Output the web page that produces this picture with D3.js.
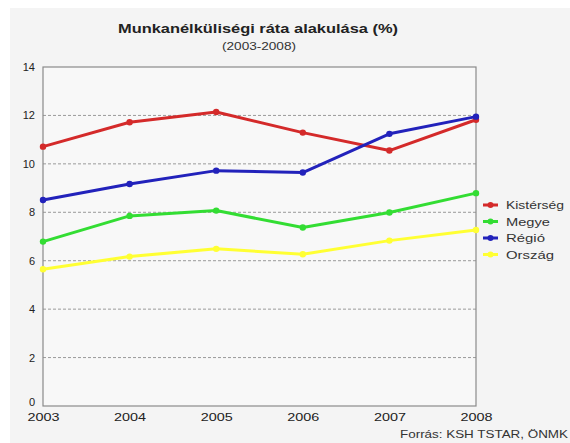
<!DOCTYPE html>
<html><head><meta charset="utf-8">
<script src="https://cdn.jsdelivr.net/npm/d3@7"></script>
<style>
html,body{margin:0;padding:0;background:#fff;}
svg{display:block;font-family:"Liberation Sans",Arial,sans-serif;}
</style></head>
<body>
<svg id="c" width="570" height="443"></svg>
<script>
const years = [2003, 2004, 2005, 2006, 2007, 2008];
const kisterseg = [10.71, 11.72, 12.14, 11.29, 10.55, 11.82];
const megye = [6.79, 7.85, 8.07, 7.37, 7.99, 8.79];
const regio = [8.51, 9.17, 9.72, 9.64, 11.24, 11.95];
const orszag = [5.65, 6.17, 6.49, 6.27, 6.83, 7.27];
const seriesNames = ["Kistérség", "Megye", "Régió", "Ország"];
const seriesColors = ["#d42a2a", "#33dd33", "#2222bb", "#ffff33"];
const yTicks = [0, 2, 4, 6, 8, 10, 12, 14];
const titleText = "Munkanélküliségi ráta alakulása (%)";
const subtitleText = "(2003-2008)";
const sourceText = "Forrás: KSH TSTAR, ÖNMK";

const seriesData = [kisterseg, megye, regio, orszag];

const svg = d3.select("#c");
const L = 43, R = 476, T = 67, B = 406;

svg.append("rect").attr("x", 10).attr("y", 8).attr("width", 560).attr("height", 435).attr("fill", "#f4f4f4");
svg.append("rect").attr("x", L).attr("y", T).attr("width", R - L).attr("height", B - T).attr("fill", "#f8f8f8");

const x = d3.scaleLinear().domain([2003, 2008]).range([L, R]);
const y = d3.scaleLinear().domain([0, 14]).range([B, T]);

// gridlines
svg.append("g").selectAll("line").data(yTicks.filter(t => t > 0 && t < 14)).join("line")
  .attr("x1", L).attr("x2", R).attr("y1", d => y(d)).attr("y2", d => y(d))
  .attr("stroke", "#9a9a9a").attr("stroke-width", 1).attr("stroke-dasharray", "3,2");

// border
svg.append("rect").attr("x", L).attr("y", T).attr("width", R - L).attr("height", B - T)
  .attr("fill", "none").attr("stroke", "#8a8a8a").attr("stroke-width", 1.2);

// y axis labels
const yAxis = svg.append("g").attr("transform", `translate(${L - 6},0)`)
  .call(d3.axisLeft(y).tickValues(yTicks).tickSize(0).tickPadding(2).tickFormat(d3.format("d")));
yAxis.select(".domain").remove();
yAxis.selectAll("text").attr("font-size", 11).attr("fill", "#222");
yAxis.selectAll(".tick").filter(d => d === 0).select("text").attr("dy", "-0.05em");

// x axis labels
const xAxis = svg.append("g").attr("transform", `translate(0,${B + 3})`)
  .call(d3.axisBottom(x).tickValues(years).tickSize(0).tickPadding(4).tickFormat(d3.format("d")));
xAxis.select(".domain").remove();
xAxis.selectAll("text").attr("font-size", 11).attr("fill", "#222")
  .attr("textLength", 32).attr("lengthAdjust", "spacingAndGlyphs");

// lines
const line = d3.line().x((d, i) => x(years[i])).y(d => y(d));
const order = [3, 1, 0, 2];
order.forEach(si => {
  const g = svg.append("g");
  g.append("path").datum(seriesData[si]).attr("d", line).attr("fill", "none")
    .attr("stroke", seriesColors[si]).attr("stroke-width", 3).attr("stroke-linejoin", "round");
  g.selectAll("circle").data(seriesData[si]).join("circle")
    .attr("cx", (d, i) => x(years[i])).attr("cy", d => y(d)).attr("r", 3.2)
    .attr("fill", seriesColors[si]);
});

// legend
const leg = svg.append("g");
seriesNames.forEach((n, i) => {
  const ly = 205 + i * 16.5;
  leg.append("line").attr("x1", 483).attr("x2", 498).attr("y1", ly).attr("y2", ly)
    .attr("stroke", seriesColors[i]).attr("stroke-width", 3);
  leg.append("circle").attr("cx", 490.5).attr("cy", ly).attr("r", 3).attr("fill", seriesColors[i]);
  leg.append("text").attr("x", 506).attr("y", ly + 4).attr("font-size", 11).attr("fill", "#333")
    .attr("textLength", [58, 44, 39, 48][i]).attr("lengthAdjust", "spacingAndGlyphs").text(n);
});

// titles
svg.append("text").attr("x", 258).attr("y", 33).attr("text-anchor", "middle")
  .attr("font-size", 13).attr("font-weight", "bold").attr("fill", "#222")
  .attr("textLength", 280).attr("lengthAdjust", "spacingAndGlyphs").text(titleText);
svg.append("text").attr("x", 259).attr("y", 50).attr("text-anchor", "middle")
  .attr("font-size", 10).attr("fill", "#333")
  .attr("textLength", 74).attr("lengthAdjust", "spacingAndGlyphs").text(subtitleText);
svg.append("text").attr("x", 568).attr("y", 438).attr("text-anchor", "end")
  .attr("font-size", 11).attr("fill", "#333")
  .attr("textLength", 168).attr("lengthAdjust", "spacingAndGlyphs").text(sourceText);
</script>
</body></html>
